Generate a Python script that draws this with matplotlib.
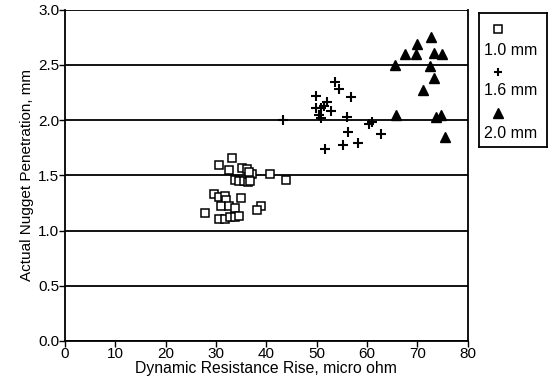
import numpy as np
import matplotlib
matplotlib.use('Agg')
import matplotlib.pyplot as plt

plt.rcParams['font.family'] = ['Liberation Sans', 'DejaVu Sans']

# 1.0 mm sheet
x_10 = [33.1, 30.6, 32.5, 35.1, 36.1, 37.1, 40.8, 43.9, 33.7, 34.5, 35.5, 36.3,
        36.8, 36.6, 29.5, 30.5, 31.8, 31.9, 35.0, 31.0, 32.5, 33.7, 39.0, 38.1,
        27.8, 30.6, 31.7, 32.8, 33.7, 34.5]
y_10 = [1.66, 1.59, 1.55, 1.57, 1.56, 1.51, 1.51, 1.46, 1.46, 1.45, 1.45, 1.44,
        1.45, 1.53, 1.33, 1.30, 1.31, 1.28, 1.29, 1.22, 1.22, 1.20, 1.22, 1.19,
        1.16, 1.10, 1.10, 1.12, 1.12, 1.13]

# 1.6 mm sheet
x_16 = [53.7, 54.5, 49.9, 56.8, 52.0, 51.5, 49.9, 50.8, 52.8, 50.4, 50.8, 56.1,
        60.3, 61.0, 56.3, 62.8, 58.1, 55.2, 51.7, 43.3]
y_16 = [2.34, 2.28, 2.22, 2.21, 2.16, 2.13, 2.11, 2.11, 2.08, 2.05, 2.02, 2.03,
        1.96, 1.98, 1.89, 1.87, 1.79, 1.77, 1.74, 2.00]

# 2.0 mm sheet
x_20 = [72.7, 70.0, 67.6, 69.8, 73.2, 74.9, 72.4, 73.2, 71.1, 73.6, 74.7, 75.5,
        65.6, 65.8]
y_20 = [2.75, 2.69, 2.60, 2.60, 2.61, 2.60, 2.49, 2.38, 2.27, 2.03, 2.05, 1.85,
        2.50, 2.05]

labels = ['1.0 mm', '1.6 mm', '2.0 mm']
y_ticks = [0.0, 0.5, 1.0, 1.5, 2.0, 2.5, 3.0]
x_ticks = [0, 10, 20, 30, 40, 50, 60, 70, 80]

fig = plt.figure(figsize=(5.51, 3.89), dpi=100)
ax = fig.add_axes([0.118, 0.1234, 0.731, 0.852])

for yv in y_ticks:
    ax.axhline(yv, color='black', lw=1.3, zorder=1)

ax.plot(x_10, y_10, 's', ms=5.5, mfc='white', mec='black', mew=1.1, zorder=3)
ax.plot(x_16, y_16, '+', ms=7, mec='black', mew=1.5, zorder=3)
ax.plot(x_20, y_20, '^', ms=7.5, mfc='black', mec='black', zorder=3)

ax.set_xlim(0, 80)
ax.set_ylim(0, 3.0)
ax.set_xticks(x_ticks)
ax.set_yticks(y_ticks)
ax.set_yticklabels(['%.1f' % v for v in y_ticks])
ax.tick_params(direction='out', length=4, width=1.0, labelsize=11, colors='black', pad=0)
for s in ax.spines.values():
    s.set_linewidth(1.3)
ax.spines['top'].set_visible(False)
ax.set_xlabel('Dynamic Resistance Rise, micro ohm', fontsize=11.3, labelpad=0)
ax.set_ylabel('Actual Nugget Penetration, mm', fontsize=11, labelpad=3)

# legend box with markers above labels
lax = fig.add_axes([0.869, 0.622, 0.123, 0.344])
lax.set_xlim(0, 1)
lax.set_ylim(0, 1)
lax.set_xticks([])
lax.set_yticks([])
for s in lax.spines.values():
    s.set_linewidth(1.3)
lax.plot([0.29], [0.88], 's', ms=5.5, mfc='white', mec='black', mew=1.1)
lax.plot([0.29], [0.56], '+', ms=6, mec='black', mew=1.5)
lax.plot([0.29], [0.254], '^', ms=7.5, mfc='black', mec='black')
for lab, yy in zip(labels, [0.724, 0.425, 0.104]):
    lax.text(0.07, yy, lab, fontsize=11.5, va='center', ha='left')

fig.savefig('out.png', dpi=100)
